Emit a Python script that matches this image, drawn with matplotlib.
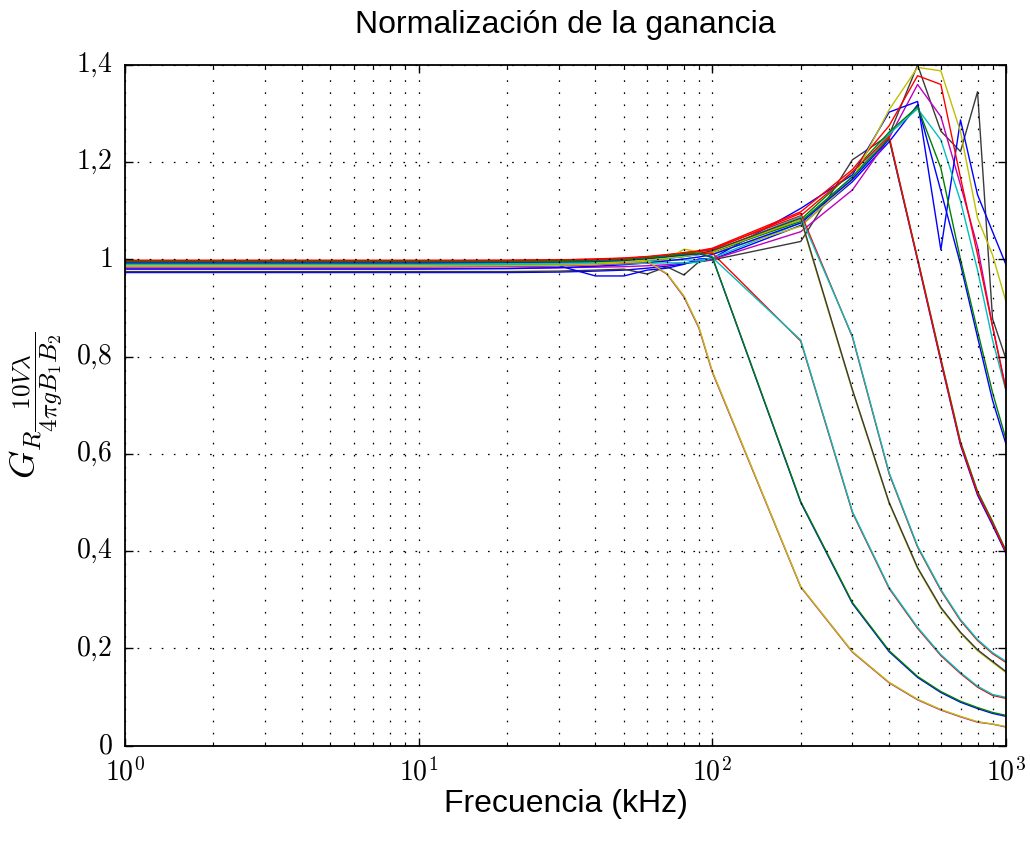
import matplotlib
matplotlib.use("Agg")
import matplotlib.pyplot as plt
from matplotlib.ticker import FixedLocator, LogLocator, NullFormatter

# ---------------- data ----------------
freqs = [1, 10, 20, 30, 40, 50, 60, 70, 80, 90, 100, 200, 300, 400, 500, 600, 700, 800, 900, 1000]

c1_m = [0.985, 0.985, 0.986, 0.987, 0.989, 0.992, 0.995, 0.970, 0.923, 0.859, 0.768, 0.326, 0.192, 0.129, 0.094, 0.073, 0.059, 0.048, 0.044, 0.038]
c1_y = [0.986, 0.986, 0.987, 0.988, 0.990, 0.993, 0.996, 0.971, 0.925, 0.861, 0.770, 0.327, 0.193, 0.130, 0.095, 0.074, 0.060, 0.049, 0.044, 0.039]
c2_b = [0.993, 0.993, 0.994, 0.995, 0.996, 0.998, 1.002, 1.006, 1.010, 1.012, 1.004, 0.500, 0.292, 0.193, 0.140, 0.109, 0.089, 0.076, 0.066, 0.060]
c2_g = [0.995, 0.995, 0.995, 0.996, 0.997, 0.999, 1.003, 1.007, 1.011, 1.013, 1.005, 0.502, 0.294, 0.195, 0.142, 0.111, 0.091, 0.078, 0.068, 0.062]
c3_r = [0.998, 0.998, 0.998, 0.999, 1.000, 1.002, 1.005, 1.008, 1.011, 1.012, 1.013, 0.832, 0.479, 0.323, 0.241, 0.185, 0.148, 0.120, 0.103, 0.097]
c3_c = [0.990, 0.990, 0.990, 0.990, 0.991, 0.991, 0.992, 0.993, 0.993, 0.994, 1.004, 0.834, 0.481, 0.325, 0.243, 0.187, 0.150, 0.122, 0.105, 0.099]
c4_y = [0.988, 0.988, 0.989, 0.990, 0.992, 0.995, 0.999, 1.003, 1.007, 1.011, 1.016, 1.082, 0.730, 0.498, 0.364, 0.282, 0.231, 0.195, 0.171, 0.150]
c4_k = [0.996, 0.996, 0.996, 0.997, 0.998, 1.000, 1.003, 1.006, 1.009, 1.012, 1.018, 1.085, 0.732, 0.500, 0.366, 0.284, 0.233, 0.197, 0.173, 0.152]
c5_r = [0.997, 0.997, 0.997, 0.998, 0.999, 1.001, 1.004, 1.008, 1.012, 1.016, 1.020, 1.095, 0.840, 0.559, 0.408, 0.319, 0.257, 0.216, 0.189, 0.171]
c5_c = [0.992, 0.992, 0.992, 0.993, 0.994, 0.996, 0.998, 1.002, 1.006, 1.010, 1.016, 1.088, 0.842, 0.561, 0.410, 0.321, 0.259, 0.218, 0.191, 0.173]
c6_b = [0.980, 0.980, 0.981, 0.983, 0.986, 0.989, 0.993, 0.997, 1.001, 1.005, 1.010, 1.075, 1.165, 1.248, 0.998, 0.790, 0.618, 0.515, 0.453, 0.395]
c6_g = [0.994, 0.994, 0.994, 0.995, 0.996, 0.998, 1.001, 1.004, 1.008, 1.012, 1.016, 1.078, 1.170, 1.250, 1.002, 0.796, 0.625, 0.523, 0.461, 0.401]
c6_r = [0.998, 0.998, 0.998, 0.999, 1.000, 1.002, 1.005, 1.009, 1.013, 1.017, 1.022, 1.090, 1.180, 1.253, 1.000, 0.793, 0.621, 0.519, 0.457, 0.398]
t_y = [0.988, 0.988, 0.989, 0.991, 0.994, 0.998, 0.992, 1.000, 1.021, 1.016, 1.013, 1.068, 1.164, 1.308, 1.395, 1.388, 1.263, 1.085, 1.009, 0.913]
t_k = [0.975, 0.975, 0.975, 0.976, 0.978, 0.980, 0.970, 0.985, 0.968, 0.995, 0.999, 1.037, 1.205, 1.256, 1.400, 1.264, 1.222, 1.345, 0.878, 0.795]
t_r = [0.997, 0.997, 0.998, 0.999, 1.001, 1.003, 1.006, 1.010, 1.014, 1.018, 1.023, 1.098, 1.185, 1.275, 1.378, 1.360, 1.168, 1.010, 0.862, 0.731]
t_m = [0.982, 0.982, 0.982, 0.983, 0.984, 0.985, 0.987, 0.989, 0.993, 0.996, 1.000, 1.057, 1.143, 1.250, 1.360, 1.294, 1.153, 1.026, 0.863, 0.733]
t_b1 = [0.986, 0.986, 0.986, 0.987, 0.966, 0.966, 0.978, 0.982, 0.990, 1.001, 1.002, 1.105, 1.174, 1.303, 1.325, 1.020, 1.287, 1.133, 1.057, 0.989]
t_b2 = [0.973, 0.973, 0.973, 0.974, 0.976, 0.978, 0.982, 0.986, 0.991, 0.996, 1.000, 1.070, 1.160, 1.242, 1.318, 1.141, 0.990, 0.840, 0.710, 0.620]
t_g = [0.990, 0.990, 0.990, 0.991, 0.993, 0.995, 0.998, 1.002, 1.006, 1.010, 1.014, 1.082, 1.180, 1.262, 1.314, 1.188, 1.000, 0.853, 0.726, 0.630]
t_c = [0.993, 0.993, 0.993, 0.994, 0.995, 0.996, 0.997, 0.998, 0.999, 0.998, 1.003, 1.075, 1.170, 1.258, 1.310, 1.246, 1.120, 0.978, 0.834, 0.730]

series = [t_b2, t_k, t_m, t_b1, t_c, t_g, t_r, t_y,
          c6_b, c6_g, c6_r, c5_r, c5_c, c4_y, c4_k, c3_r, c3_c, c2_b, c2_g, c1_m, c1_y]
series_colors = ['b', 'k', 'm', 'b', 'c', 'g', 'r', 'y',
                 'b', 'g', 'r', 'r', 'c', 'y', 'k', 'r', 'c', 'b', 'g', 'm', 'y']

y_ticks = [0, 0.2, 0.4, 0.6, 0.8, 1.0, 1.2, 1.4]
y_tick_labels = [r'$0$', r'$0{,}2$', r'$0{,}4$', r'$0{,}6$', r'$0{,}8$', r'$1$', r'$1{,}2$', r'$1{,}4$']
x_ticks = [1, 10, 100, 1000]
x_tick_labels = [r'$10^{0}$', r'$10^{1}$', r'$10^{2}$', r'$10^{3}$']

title = 'Normalización de la ganancia'
xlabel = 'Frecuencia (kHz)'
ylabel = r'$G_{R\dfrac{10V\lambda}{4\pi g B_1 B_2}}$'

# ---------------- style ----------------
plt.style.use('classic')
plt.rcParams['mathtext.fontset'] = 'cm'

classic_colors = {'b': '#0000ff', 'g': '#008000', 'r': '#ff0000', 'c': '#00bfbf',
                  'm': '#bf00bf', 'y': '#bfbf00', 'k': '#3a3a3a'}

W, H = 1030, 850
fig = plt.figure(figsize=(W / 100, H / 100), dpi=100, facecolor='white')
left, right, top, bottom = 125, 1006, 65, 745.5
ax = fig.add_axes([left / W, 1 - bottom / H, (right - left) / W, (bottom - top) / H])

for vals, col in zip(series, series_colors):
    ax.plot(freqs, vals, color=classic_colors[col], linewidth=1.0)

ax.set_xscale('log')
ax.set_xlim(1, 1000)
ax.set_ylim(0, 1.4)

ax.xaxis.set_major_locator(FixedLocator(x_ticks))
ax.xaxis.set_minor_locator(LogLocator(base=10, subs=[2, 3, 4, 5, 6, 7, 8, 9]))
ax.xaxis.set_minor_formatter(NullFormatter())
ax.set_xticks(x_ticks)
ax.set_xticklabels(x_tick_labels)
ax.set_yticks(y_ticks)
ax.set_yticklabels(y_tick_labels)

ax.tick_params(which='major', direction='in', length=6, width=1.0, top=True, right=True,
               labelsize=20)
ax.tick_params(axis='y', which='major', pad=9)
ax.tick_params(axis='x', which='major', pad=9)
ax.tick_params(which='minor', direction='in', length=3, width=0.8, top=True, right=True)

grid_style = dict(color='k', linestyle=(0, (1.2, 7.5)), linewidth=0.9)
ax.grid(True, which='major', axis='both', **grid_style)
ax.grid(True, which='minor', axis='x', **grid_style)
ax.set_axisbelow(False)

for sp in ax.spines.values():
    sp.set_linewidth(1.3)

sans = ['Liberation Sans', 'DejaVu Sans']
fig.text((left + right) / 2 / W, 1 - 33 / H, title, ha='center', va='baseline',
         fontsize=23, family=sans)
fig.text((left + right) / 2 / W, 1 - 812 / H, xlabel, ha='center', va='baseline',
         fontsize=23, family=sans)
fig.text(36 / W, 1 - 405 / H, ylabel, ha='center', va='center', rotation=90, fontsize=26)

fig.savefig('out.png', dpi=100, facecolor='white')
